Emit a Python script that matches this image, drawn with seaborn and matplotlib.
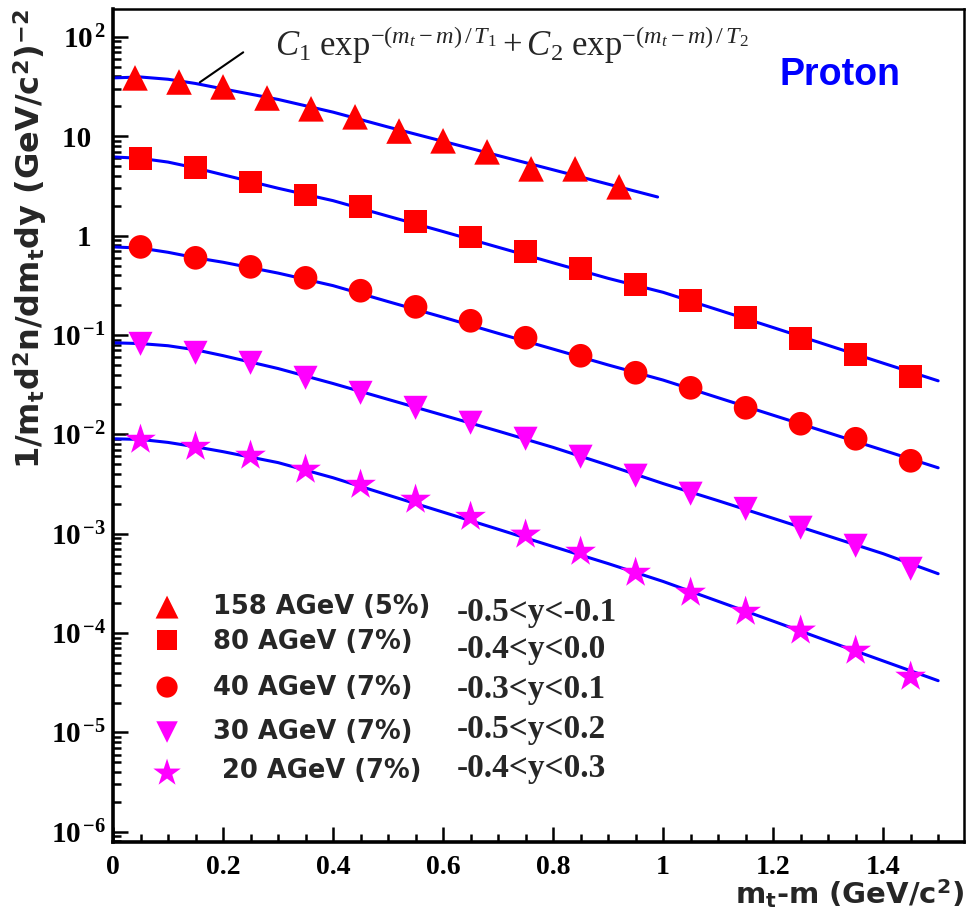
import numpy as np
import pandas as pd
import matplotlib
matplotlib.use("Agg")
import matplotlib.pyplot as plt
import seaborn as sns
from matplotlib.ticker import LogLocator, MultipleLocator, FuncFormatter, NullFormatter

# ====== DATA ======
beams = ["158 AGeV (5%)", "80 AGeV (7%)", "40 AGeV (7%)", "30 AGeV (7%)", " 20 AGeV (7%)"]
rapidity = ["-0.5<y<-0.1", "-0.4<y<0.0", "-0.3<y<0.1", "-0.5<y<0.2", "-0.4<y<0.3"]

x_158 = [0.04, 0.12, 0.20, 0.28, 0.36, 0.44, 0.52, 0.60, 0.68, 0.76, 0.84, 0.92]
y_158 = [38.7, 35.2, 31.4, 24.3, 18.9, 15.7, 11.3, 9.0, 6.97, 4.70, 4.70, 3.10]

x_low = [0.05, 0.15, 0.25, 0.35, 0.45, 0.55, 0.65, 0.75, 0.85, 0.95, 1.05, 1.15, 1.25, 1.35, 1.45]
y_80 = [5.93, 4.81, 3.47, 2.57, 1.95, 1.38, 0.97, 0.69, 0.47, 0.32, 0.221, 0.149, 0.0917, 0.0632, 0.038]
y_40 = [0.77, 0.598, 0.485, 0.376, 0.279, 0.192, 0.139, 0.0938, 0.0618, 0.0417, 0.0294, 0.0185, 0.0128, 0.00903, 0.00542]
y_30 = [0.0815, 0.0662, 0.0525, 0.0371, 0.0262, 0.0185, 0.0131, 0.00904, 0.00596, 0.00384, 0.00253, 0.00178, 0.00115, 0.000757, 0.000444]
y_20 = [0.00883, 0.0075, 0.0061, 0.00441, 0.00311, 0.0022, 0.00148, 0.00098, 0.000659, 0.000405, 0.000255, 0.000164, 0.000106, 6.65e-5, 3.64e-5]

# fitted curves
fit_x_158 = [0, 0.05, 0.1, 0.15, 0.2, 0.3, 0.4, 0.5, 0.6, 0.7, 0.8, 0.9, 0.99]
fit_158 = [38.7, 39.5, 37.5, 34.0, 30.0, 23.5, 17.5, 12.4, 8.9, 6.4, 4.6, 3.3, 2.45]
fit_x = [0, 0.05, 0.1, 0.15, 0.2, 0.3, 0.4, 0.5, 0.6, 0.7, 0.8, 0.9, 1.0, 1.1, 1.2, 1.3, 1.4, 1.5]
fit_80 = [6.2, 6.0, 5.5, 4.8, 4.1, 3.0, 2.25, 1.57, 1.10, 0.765, 0.533, 0.372, 0.269, 0.179, 0.119, 0.0787, 0.0521, 0.0346]
fit_40 = [0.77, 0.75, 0.68, 0.60, 0.54, 0.42, 0.314, 0.217, 0.151, 0.104, 0.0722, 0.050, 0.0352, 0.0234, 0.0156, 0.0104, 0.00693, 0.00461]
fit_30 = [0.0835, 0.082, 0.078, 0.071, 0.062, 0.046, 0.0325, 0.0225, 0.0156, 0.0108, 0.0074, 0.0049, 0.0032, 0.00215, 0.00143, 0.00095, 0.00063, 0.000396]
fit_20 = [0.00903, 0.0089, 0.0083, 0.0075, 0.0067, 0.0052, 0.00366, 0.00245, 0.00165, 0.00111, 0.000743, 0.000501, 0.000331, 0.000209, 0.000132, 8.3e-5, 5.25e-5, 3.32e-5]

# ====== BUILD TABLES ======
points = pd.concat([
    pd.DataFrame({"x": x_158, "y": y_158, "beam": beams[0]}),
    pd.DataFrame({"x": x_low, "y": y_80, "beam": beams[1]}),
    pd.DataFrame({"x": x_low, "y": y_40, "beam": beams[2]}),
    pd.DataFrame({"x": x_low, "y": y_30, "beam": beams[3]}),
    pd.DataFrame({"x": x_low, "y": y_20, "beam": beams[4]}),
])
fits = pd.concat([
    pd.DataFrame({"x": fit_x_158, "y": fit_158, "beam": beams[0]}),
    pd.DataFrame({"x": fit_x, "y": fit_80, "beam": beams[1]}),
    pd.DataFrame({"x": fit_x, "y": fit_40, "beam": beams[2]}),
    pd.DataFrame({"x": fit_x, "y": fit_30, "beam": beams[3]}),
    pd.DataFrame({"x": fit_x, "y": fit_20, "beam": beams[4]}),
])

markers = ["^", "s", "o", "v", "*"]
colors = ["#ff0000", "#ff0000", "#ff0000", "#ff00ff", "#ff00ff"]
sizes = [340, 270, 290, 300, 540]

# ====== STYLE ======
sns.set_theme(style="ticks")
plt.rcParams["font.family"] = ["Liberation Serif", "DejaVu Sans"]
plt.rcParams["mathtext.fontset"] = "custom"
plt.rcParams["mathtext.rm"] = "Liberation Serif"
plt.rcParams["mathtext.it"] = "Liberation Serif:italic"
plt.rcParams["mathtext.bf"] = "Liberation Serif:bold"
plt.rcParams["mathtext.sf"] = "DejaVu Sans:bold"

fig = plt.figure(figsize=(9.67, 9.17), dpi=100)
ax = fig.add_axes([113 / 967, 75 / 917, 851 / 967, 833 / 917])
ax.set_yscale("log")

sns.lineplot(data=fits, x="x", y="y", units="beam", estimator=None, sort=False,
             color="#0000ff", lw=2.2, ax=ax, zorder=2)
for b, m, c, s in zip(beams, markers, colors, sizes):
    sns.scatterplot(data=points[points["beam"] == b], x="x", y="y", marker=m, color=c,
                    s=s, edgecolor="none", linewidth=0, ax=ax, zorder=3, legend=False)

ax.set_xlim(0, 1.547)
ax.set_ylim(7.9e-7, 191)

# ticks
ax.xaxis.set_major_locator(MultipleLocator(0.2))
ax.xaxis.set_minor_locator(MultipleLocator(0.05))
ax.xaxis.set_major_formatter(FuncFormatter(lambda v, p: "0" if abs(v) < 1e-9 else ("1" if abs(v - 1) < 1e-9 else f"{v:.1f}")))
ax.yaxis.set_major_locator(LogLocator(base=10, numticks=20))
ax.yaxis.set_minor_locator(LogLocator(base=10, subs=np.arange(2, 10), numticks=100))
ax.yaxis.set_minor_formatter(NullFormatter())


def ylab(v, p):
    e = int(round(np.log10(v)))
    if e == 0:
        return "1  "
    if e == 1:
        return "10  "
    return r"$\mathbf{10}^{\,\mathbf{%d}}$" % e


ax.yaxis.set_major_formatter(FuncFormatter(ylab))
ax.tick_params(axis="both", which="both", direction="in", top=False, right=False,
               colors="black", width=1.8)
ax.tick_params(axis="both", which="major", length=11, pad=5)
ax.tick_params(axis="y", which="major", labelsize=21)
ax.tick_params(axis="x", which="major", labelsize=20, pad=9)
ax.tick_params(axis="both", which="minor", length=5.5)
for lab in ax.get_xticklabels() + ax.get_yticklabels():
    lab.set_fontweight("bold")
for name, sp in ax.spines.items():
    sp.set_linewidth(2.6 if name in ("left", "bottom") else 1.8)
    sp.set_color("black")

# axis labels
ax.set_ylabel(r"1/m$_\mathsf{t}$d$^\mathsf{2}$n/dm$_\mathsf{t}$dy (GeV/c$^\mathsf{2}$)$^\mathsf{-2}$",
              family="DejaVu Sans", fontweight="bold", fontsize=23, loc="top")
ax.yaxis.set_label_coords(-0.097, 1.0)
ax.yaxis.label.set_va("center")
ax.set_xlabel(r"m$_\mathsf{t}$-m (GeV/c$^\mathsf{2}$)", family="DejaVu Sans",
              fontweight="bold", fontsize=21, loc="right")
ax.xaxis.set_label_coords(1.0, -0.062)
ax.xaxis.label.set_va("center")

# formula annotation
ax.text(0.19, 0.957, r"$C_1\ \mathrm{exp}^{-(m_t-m)\,/\,T_1} + C_2\ \mathrm{exp}^{-(m_t-m)\,/\,T_2}$",
        transform=ax.transAxes, fontsize=25, va="center", ha="left")
ax.plot([0.102, 0.153], [0.912, 0.948], transform=ax.transAxes, color="black", lw=1.5)

ax.text(0.854, 0.921, "Proton", transform=ax.transAxes, family="Liberation Sans",
        fontweight="bold", fontsize=27, color="#0000ff", ha="center", va="center")

# legend block
leg_mark_y = [0.282, 0.2425, 0.186, 0.132, 0.0828]
leg_text_y = [0.282, 0.240, 0.185, 0.132, 0.0852]
rap_y = [0.276, 0.2305, 0.1825, 0.1345, 0.0888]
for i in range(len(beams)):
    ax.scatter([0.0635], [leg_mark_y[i]], transform=ax.transAxes, marker=markers[i],
               color=colors[i], s=sizes[i] * 0.8, edgecolor="none", zorder=4)
    ax.text(0.1175, leg_text_y[i], beams[i], transform=ax.transAxes, family="DejaVu Sans",
            fontweight="bold", fontsize=18.5, va="center", ha="left")
    ax.text(0.404, rap_y[i], rapidity[i], transform=ax.transAxes, family="Liberation Serif",
            fontweight="bold", fontsize=24, va="center", ha="left")

fig.savefig("out.png", dpi=100, facecolor="white")
